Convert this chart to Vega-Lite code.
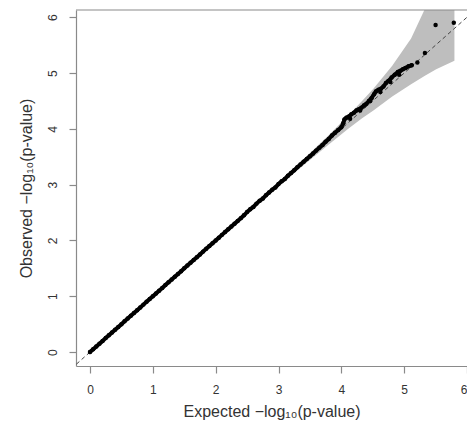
{
  "$schema": "https://vega.github.io/schema/vega-lite/v6.json",
  "width": 391,
  "height": 356,
  "autosize": {"type": "none"},
  "padding": {"left": 76, "top": 10, "right": 0, "bottom": 62},
  "background": "white",
  "config": {
    "view": {"stroke": null},
    "font": "Liberation Sans",
    "axis": {
      "grid": false,
      "domainColor": "#8a8a8a",
      "domainWidth": 1.2,
      "tickColor": "#8a8a8a",
      "tickWidth": 1.2,
      "tickSize": 7,
      "labelColor": "#333333",
      "labelFontSize": 12,
      "labelFont": "Liberation Sans",
      "titleFont": "Liberation Sans",
      "titleFontSize": 16,
      "titleFontWeight": "normal",
      "titleColor": "#333333"
    }
  },
  "datasets": {
    "band": [
      {"e": 2.33, "lo": 2.315, "hi": 2.349},
      {"e": 2.81, "lo": 2.783, "hi": 2.838},
      {"e": 3.33, "lo": 3.286, "hi": 3.385},
      {"e": 3.81, "lo": 3.727, "hi": 3.90},
      {"e": 4.11, "lo": 4.00, "hi": 4.24},
      {"e": 4.33, "lo": 4.19, "hi": 4.50},
      {"e": 4.51, "lo": 4.33, "hi": 4.72},
      {"e": 4.81, "lo": 4.58, "hi": 5.13},
      {"e": 5.11, "lo": 4.80, "hi": 5.62},
      {"e": 5.33, "lo": 4.95, "hi": 6.15},
      {"e": 5.51, "lo": 5.07, "hi": 6.50},
      {"e": 5.80, "lo": 5.22, "hi": 7.41}
    ],
    "diag": [{"x1": -0.3, "y1": -0.3, "x2": 6.3, "y2": 6.3}],
    "frame": [{"x1": -0.223, "x2": 6.0, "y": 6.13}],
    "qq": [
      {"e": 0.00, "o": 0.00}, {"e": 0.05, "o": 0.05}, {"e": 0.10, "o": 0.10}, {"e": 0.15, "o": 0.15},
      {"e": 0.20, "o": 0.20}, {"e": 0.25, "o": 0.25}, {"e": 0.30, "o": 0.30}, {"e": 0.35, "o": 0.35},
      {"e": 0.40, "o": 0.40}, {"e": 0.45, "o": 0.45}, {"e": 0.50, "o": 0.50}, {"e": 0.55, "o": 0.55},
      {"e": 0.60, "o": 0.60}, {"e": 0.65, "o": 0.65}, {"e": 0.70, "o": 0.70}, {"e": 0.75, "o": 0.75},
      {"e": 0.80, "o": 0.80}, {"e": 0.85, "o": 0.85}, {"e": 0.90, "o": 0.90}, {"e": 0.95, "o": 0.95},
      {"e": 1.00, "o": 1.00}, {"e": 1.05, "o": 1.05}, {"e": 1.10, "o": 1.10}, {"e": 1.15, "o": 1.15},
      {"e": 1.20, "o": 1.20}, {"e": 1.25, "o": 1.25}, {"e": 1.30, "o": 1.30}, {"e": 1.35, "o": 1.35},
      {"e": 1.40, "o": 1.40}, {"e": 1.45, "o": 1.45}, {"e": 1.50, "o": 1.50}, {"e": 1.55, "o": 1.55},
      {"e": 1.60, "o": 1.60}, {"e": 1.65, "o": 1.65}, {"e": 1.70, "o": 1.70}, {"e": 1.75, "o": 1.75},
      {"e": 1.80, "o": 1.80}, {"e": 1.85, "o": 1.85}, {"e": 1.90, "o": 1.90}, {"e": 1.95, "o": 1.95},
      {"e": 2.00, "o": 2.00}, {"e": 2.05, "o": 2.05}, {"e": 2.10, "o": 2.10}, {"e": 2.15, "o": 2.15},
      {"e": 2.20, "o": 2.20}, {"e": 2.25, "o": 2.25}, {"e": 2.30, "o": 2.30}, {"e": 2.35, "o": 2.35},
      {"e": 2.40, "o": 2.40}, {"e": 2.45, "o": 2.45}, {"e": 2.50, "o": 2.51}, {"e": 2.55, "o": 2.56},
      {"e": 2.60, "o": 2.60}, {"e": 2.65, "o": 2.66}, {"e": 2.70, "o": 2.71}, {"e": 2.75, "o": 2.75},
      {"e": 2.80, "o": 2.81}, {"e": 2.85, "o": 2.86}, {"e": 2.90, "o": 2.91}, {"e": 2.95, "o": 2.95},
      {"e": 3.00, "o": 3.01}, {"e": 3.05, "o": 3.06}, {"e": 3.10, "o": 3.10}, {"e": 3.15, "o": 3.16},
      {"e": 3.20, "o": 3.21}, {"e": 3.25, "o": 3.26}, {"e": 3.30, "o": 3.31}, {"e": 3.35, "o": 3.36},
      {"e": 3.40, "o": 3.41}, {"e": 3.45, "o": 3.46}, {"e": 3.50, "o": 3.51}, {"e": 3.55, "o": 3.56},
      {"e": 3.60, "o": 3.61}, {"e": 3.65, "o": 3.66}, {"e": 3.70, "o": 3.71}, {"e": 3.75, "o": 3.77},
      {"e": 3.80, "o": 3.82}, {"e": 3.85, "o": 3.88}, {"e": 3.90, "o": 3.93}, {"e": 3.95, "o": 3.98},
      {"e": 4.00, "o": 4.03}, {"e": 4.03, "o": 4.10}, {"e": 4.05, "o": 4.17}, {"e": 4.08, "o": 4.20},
      {"e": 4.12, "o": 4.22}, {"e": 4.16, "o": 4.26}, {"e": 4.20, "o": 4.29}, {"e": 4.24, "o": 4.33},
      {"e": 4.28, "o": 4.35}, {"e": 4.32, "o": 4.38}, {"e": 4.36, "o": 4.42}, {"e": 4.40, "o": 4.45},
      {"e": 4.44, "o": 4.50}, {"e": 4.48, "o": 4.55}, {"e": 4.52, "o": 4.62}, {"e": 4.55, "o": 4.67},
      {"e": 4.59, "o": 4.70}, {"e": 4.63, "o": 4.72}, {"e": 4.67, "o": 4.76}, {"e": 4.71, "o": 4.82},
      {"e": 4.75, "o": 4.86}, {"e": 4.80, "o": 4.92}, {"e": 4.85, "o": 4.97}, {"e": 4.90, "o": 5.02},
      {"e": 4.94, "o": 5.04}, {"e": 4.98, "o": 5.07}, {"e": 5.02, "o": 5.09}, {"e": 5.07, "o": 5.12},
      {"e": 5.12, "o": 5.14}, {"e": 5.21, "o": 5.19}, {"e": 5.33, "o": 5.36}, {"e": 5.50, "o": 5.86},
      {"e": 5.79, "o": 5.90},
      {"e": 4.14, "o": 4.18}, {"e": 4.30, "o": 4.33}, {"e": 4.46, "o": 4.50}, {"e": 4.62, "o": 4.66},
      {"e": 4.78, "o": 4.84}, {"e": 4.92, "o": 4.97}
    ]
  },
  "layer": [
    {
      "data": {"name": "band"},
      "mark": {"type": "area", "color": "#bebebe", "clip": true, "opacity": 1},
      "encoding": {
        "x": {"field": "e", "type": "quantitative",
              "scale": {"domain": [-0.223, 6.0], "nice": false, "zero": false},
              "axis": {"values": [0, 1, 2, 3, 4, 5, 6], "format": "d", "title": "Expected  −log₁₀(p-value)",
                       "labelPadding": 11, "titlePadding": 8}},
        "y": {"field": "hi", "type": "quantitative",
              "scale": {"domain": [-0.25, 6.13], "nice": false, "zero": false},
              "axis": {"values": [0, 1, 2, 3, 4, 5, 6], "format": "d", "title": "Observed  −log₁₀(p-value)",
                       "labelAngle": -90, "labelAlign": "center", "labelBaseline": "bottom",
                       "labelPadding": 10, "titlePadding": 12}},
        "y2": {"field": "lo"}
      }
    },
    {
      "data": {"name": "diag"},
      "mark": {"type": "rule", "color": "#444444", "strokeDash": [4, 3], "strokeWidth": 1, "clip": true},
      "encoding": {
        "x": {"field": "x1", "type": "quantitative"},
        "y": {"field": "y1", "type": "quantitative"},
        "x2": {"field": "x2"},
        "y2": {"field": "y2"}
      }
    },
    {
      "data": {"name": "frame"},
      "mark": {"type": "rule", "color": "#8a8a8a", "strokeWidth": 1.2},
      "encoding": {
        "x": {"field": "x1", "type": "quantitative"},
        "x2": {"field": "x2"},
        "y": {"field": "y", "type": "quantitative"}
      }
    },
    {
      "data": {"name": "qq"},
      "transform": [{"filter": "datum.e <= 5.12 && indexof([4.14, 4.3, 4.46, 4.62, 4.78, 4.92], datum.e) < 0"}],
      "mark": {"type": "line", "color": "black", "strokeWidth": 4, "strokeCap": "round", "strokeJoin": "round", "clip": true},
      "encoding": {
        "x": {"field": "e", "type": "quantitative"},
        "y": {"field": "o", "type": "quantitative"},
        "order": {"field": "e", "type": "quantitative"}
      }
    },
    {
      "data": {"name": "qq"},
      "mark": {"type": "circle", "color": "black", "size": 20, "opacity": 1, "clip": true},
      "encoding": {
        "x": {"field": "e", "type": "quantitative"},
        "y": {"field": "o", "type": "quantitative"}
      }
    }
  ]
}
